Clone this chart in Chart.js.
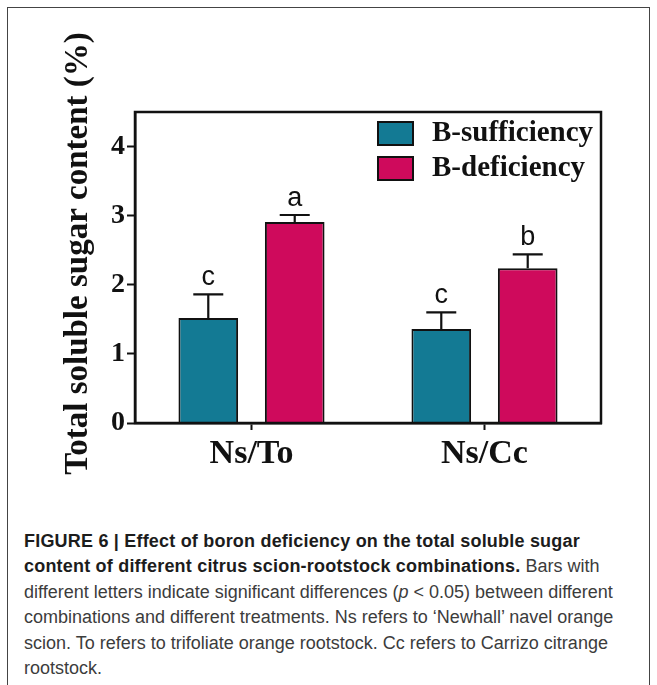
<!DOCTYPE html>
<html>
<head>
<meta charset="utf-8">
<script src="https://cdn.jsdelivr.net/npm/chart.js@4.4.1/dist/chart.umd.min.js"></script>
<style>
  html, body { margin: 0; padding: 0; background: #fff; }
  body { width: 657px; height: 685px; position: relative; overflow: hidden; }
  #frame { position: absolute; left: 7px; top: 7px; width: 643px; height: 720px; border: 1.5px solid #444; box-sizing: border-box; }
  #chartBox { position: absolute; left: 0; top: 0; width: 657px; height: 500px; }
  #caption { position: absolute; left: 24px; top: 529px; font-family: "Liberation Sans", Arial, sans-serif; font-size: 18px; line-height: 25.4px; color: #3c3c3c; white-space: nowrap; }
  #caption b { color: #1c1c1c; letter-spacing: 0.2px; }
</style>
</head>
<body>
<div id="frame"></div>
<div id="chartBox"><canvas id="sugarChart" width="657" height="500"></canvas></div>
<div id="caption">
  <b>FIGURE 6 | Effect of boron deficiency on the total soluble sugar</b><br>
  <b>content of different citrus scion-rootstock combinations.</b> Bars with<br>
  different letters indicate significant differences (<i>p</i> &lt; 0.05) between different<br>
  combinations and different treatments. Ns refers to ‘Newhall’ navel orange<br>
  scion. To refers to trifoliate orange rootstock. Cc refers to Carrizo citrange<br>
  rootstock.
</div>
<script>
// data
const categories = ['Ns/To', 'Ns/Cc'];
const seriesNames = ['B-sufficiency', 'B-deficiency'];
const sufficiency = [1.52, 1.36];
const deficiency = [2.91, 2.24];
const sufficiencyErr = [0.34, 0.24];
const deficiencyErr = [0.10, 0.20];
const sufficiencyLetters = ['c', 'c'];
const deficiencyLetters = ['a', 'b'];
const yTicks = [0, 1, 2, 3, 4];
const yTitle = 'Total soluble sugar content (%)';

const teal = '#137a94';
const pink = '#cf0a5c';
const ink = '#111';
const serif = '"Liberation Serif", "Times New Roman", serif';

// error bars, letters, plot frame, legend and y title
const extrasPlugin = {
    id: 'extras',
    afterDatasetsDraw(chart) {
        const { ctx, chartArea: a, scales: { y } } = chart;
        ctx.save();
        ctx.strokeStyle = ink;
        ctx.fillStyle = ink;

        chart.data.datasets.forEach((ds, i) => {
            chart.getDatasetMeta(i).data.forEach((bar, j) => {
                const yTop = y.getPixelForValue(ds.data[j] + ds.errors[j]);
                ctx.lineWidth = 2.2;
                ctx.beginPath();
                ctx.moveTo(bar.x, bar.y);
                ctx.lineTo(bar.x, yTop);
                ctx.moveTo(bar.x - 15, yTop);
                ctx.lineTo(bar.x + 15, yTop);
                ctx.stroke();
                ctx.font = '27px "Liberation Sans", Arial, sans-serif';
                ctx.textAlign = 'center';
                ctx.textBaseline = 'alphabetic';
                ctx.fillText(ds.letters[j], bar.x, yTop - 9);
            });
        });

        ctx.lineWidth = 2.5;
        ctx.strokeRect(a.left, a.top, a.right - a.left, a.bottom - a.top);

        // legend, top right inside the plot
        chart.data.datasets.forEach((ds, i) => {
            const bx = a.right - 223;
            const by = a.top + 10 + i * 35;
            ctx.fillStyle = ds.backgroundColor;
            ctx.fillRect(bx, by, 35, 23);
            ctx.lineWidth = 2;
            ctx.strokeRect(bx, by, 35, 23);
            ctx.fillStyle = ink;
            ctx.font = 'bold 29px ' + serif;
            ctx.textAlign = 'left';
            ctx.textBaseline = 'middle';
            ctx.fillText(ds.label, bx + 54, by + 12);
        });

        ctx.translate(87, (a.top + a.bottom) / 2 - 14);
        ctx.rotate(-Math.PI / 2);
        ctx.font = 'bold 33px ' + serif;
        ctx.textAlign = 'center';
        ctx.textBaseline = 'alphabetic';
        ctx.fillText(yTitle, 0, 0);
        ctx.restore();
    }
};

new Chart(document.getElementById('sugarChart'), {
    type: 'bar',
    data: {
        labels: categories,
        datasets: [
            {
                label: seriesNames[0],
                data: sufficiency,
                errors: sufficiencyErr,
                letters: sufficiencyLetters,
                backgroundColor: teal,
                borderColor: ink,
                borderWidth: 2,
                categoryPercentage: 0.742,
                barPercentage: 0.69
            },
            {
                label: seriesNames[1],
                data: deficiency,
                errors: deficiencyErr,
                letters: deficiencyLetters,
                backgroundColor: pink,
                borderColor: ink,
                borderWidth: 2,
                categoryPercentage: 0.742,
                barPercentage: 0.69
            }
        ]
    },
    options: {
        responsive: false,
        animation: false,
        devicePixelRatio: 1,
        layout: { padding: { left: 0, top: 112, right: 56, bottom: 0 } },
        plugins: {
            legend: { display: false },
            tooltip: { enabled: false }
        },
        scales: {
            x: {
                afterFit: s => { s.height = 77; },
                border: { color: ink, width: 2.5 },
                grid: { offset: false, drawOnChartArea: false, tickLength: 7, tickWidth: 2, tickColor: ink },
                ticks: {
                    color: ink,
                    padding: 4,
                    font: { family: serif, weight: 'bold', size: 34 }
                }
            },
            y: {
                min: 0,
                max: 4.5,
                afterFit: s => { s.width = 135; },
                afterBuildTicks: s => { s.ticks = yTicks.map(v => ({ value: v })); },
                border: { color: ink, width: 2.5 },
                grid: { drawOnChartArea: false, tickLength: 8, tickWidth: 2, tickColor: ink },
                ticks: {
                    color: ink,
                    padding: 2,
                    font: { family: serif, weight: 'bold', size: 28 }
                }
            }
        }
    },
    plugins: [extrasPlugin]
});
</script>
</body>
</html>
